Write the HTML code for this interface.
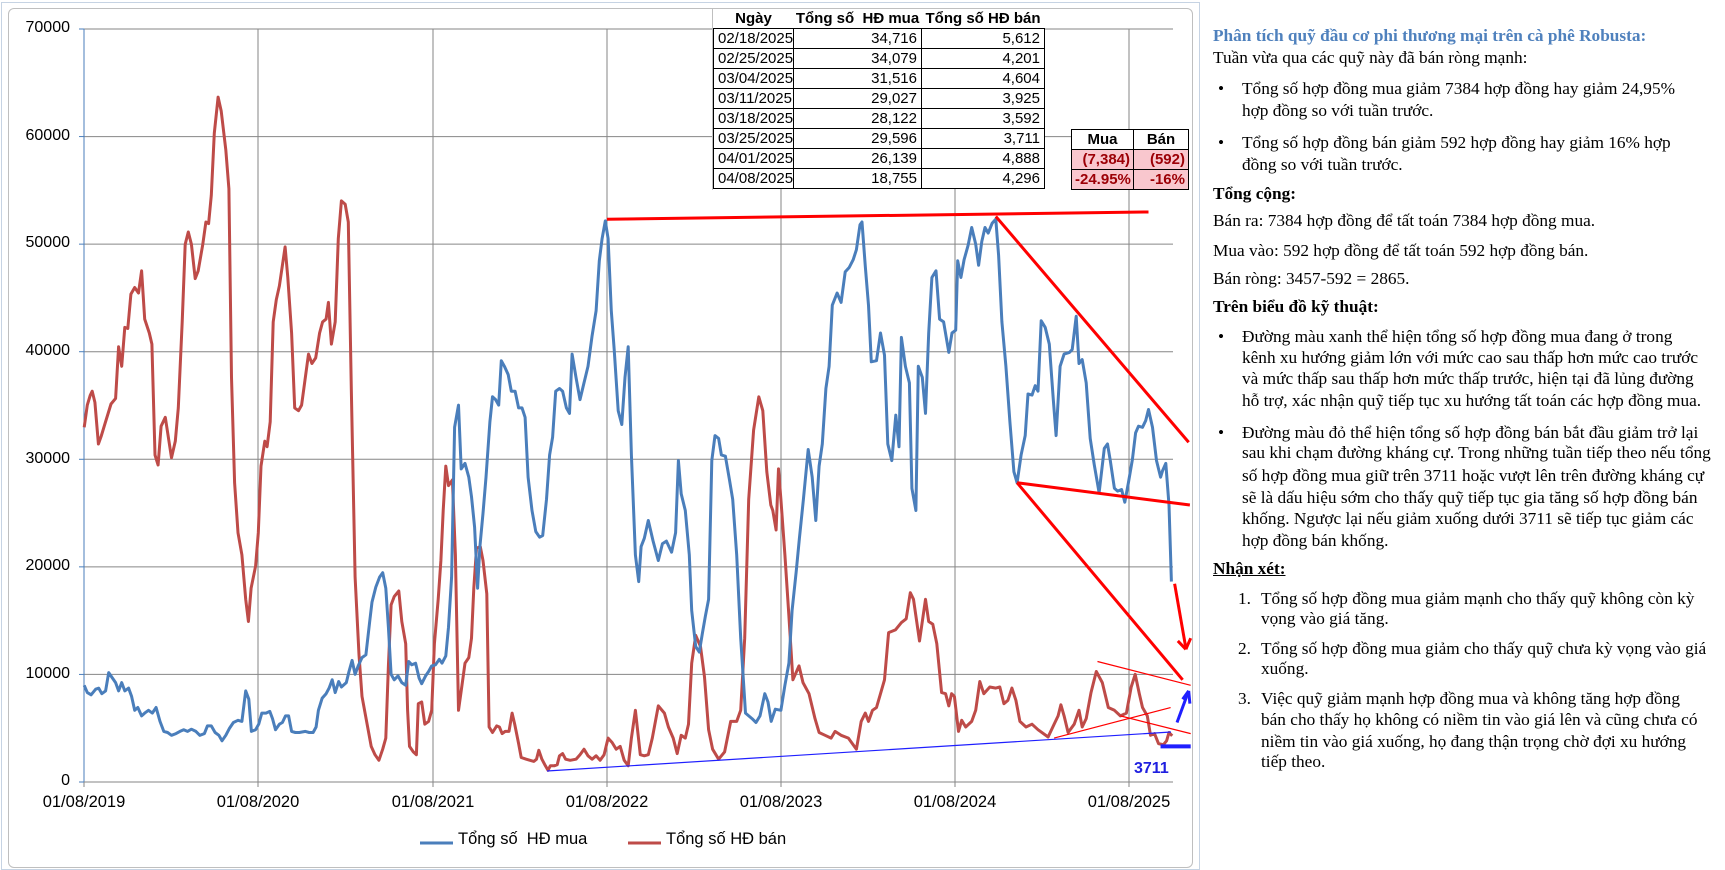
<!DOCTYPE html>
<html><head><meta charset="utf-8">
<style>
html,body{margin:0;padding:0;background:#fff;}
body{width:1725px;height:870px;position:relative;overflow:hidden;font-family:"Liberation Sans",sans-serif;}
.ax{position:absolute;font-size:16px;color:#000;}
.yl{position:absolute;width:60px;text-align:right;left:10px;font-size:16px;}
.xl{position:absolute;width:120px;text-align:center;font-size:16.5px;}
table{border-collapse:collapse;position:absolute;font-size:15px;table-layout:fixed;}
td{white-space:nowrap;overflow:visible;}
.t1 td{height:19px;padding:0 4px;border:1px solid #000;line-height:19px;}
.t1 tr.h td{border:none;font-weight:bold;text-align:center;padding:0;}
.t2 td{height:19px;padding:0 3px;border:1px solid #000;line-height:19px;text-align:right;font-weight:bold;}
.t2 tr.p td{background:#f9c7ce;color:#9c0006;}
.tx{position:absolute;font-family:"Liberation Serif",serif;font-size:17.3px;white-space:nowrap;line-height:20px;}
</style></head><body>
<div style="position:absolute;left:1px;top:2px;width:1197px;height:866px;border:1px solid #c6d3e3;"></div>
<div style="position:absolute;left:8px;top:8px;width:1183px;height:858px;border:1px solid #bfbfbf;border-radius:6px;"></div>
<svg id="ch" width="1725" height="870" style="position:absolute;left:0;top:0"></svg>
<div class="yl" style="top:19px">70000</div>
<div class="yl" style="top:127px">60000</div>
<div class="yl" style="top:234px">50000</div>
<div class="yl" style="top:342px">40000</div>
<div class="yl" style="top:450px">30000</div>
<div class="yl" style="top:557px">20000</div>
<div class="yl" style="top:665px">10000</div>
<div class="yl" style="top:772px">0</div>
<div class="xl" style="left:24px;top:793px">01/08/2019</div>
<div class="xl" style="left:198px;top:793px">01/08/2020</div>
<div class="xl" style="left:373px;top:793px">01/08/2021</div>
<div class="xl" style="left:547px;top:793px">01/08/2022</div>
<div class="xl" style="left:721px;top:793px">01/08/2023</div>
<div class="xl" style="left:895px;top:793px">01/08/2024</div>
<div class="xl" style="left:1069px;top:793px">01/08/2025</div>
<div class="ax" style="left:458px;top:830px;font-size:16.5px">Tổng số&nbsp; HĐ mua</div>
<div class="ax" style="left:666px;top:830px;font-size:16.5px">Tổng số HĐ bán</div>
<div class="ax" style="left:1134px;top:760px;color:#1f1fe0;font-weight:bold;font-size:16px">3711</div>

<div style="position:absolute;left:712px;top:8px;width:1px;height:182px;background:#bfbfbf"></div>
<table class="t1" style="left:713px;top:9px;width:331px;background:#fff">
<colgroup><col style="width:80px"><col style="width:128px"><col style="width:123px"></colgroup>
<tr class="h"><td>Ngày</td><td>Tổng số&nbsp; HĐ mua</td><td>Tổng số HĐ bán</td></tr>
<tr><td>02/18/2025</td><td align="right">34,716</td><td align="right">5,612</td></tr>
<tr><td>02/25/2025</td><td align="right">34,079</td><td align="right">4,201</td></tr>
<tr><td>03/04/2025</td><td align="right">31,516</td><td align="right">4,604</td></tr>
<tr><td>03/11/2025</td><td align="right">29,027</td><td align="right">3,925</td></tr>
<tr><td>03/18/2025</td><td align="right">28,122</td><td align="right">3,592</td></tr>
<tr><td>03/25/2025</td><td align="right">29,596</td><td align="right">3,711</td></tr>
<tr><td>04/01/2025</td><td align="right">26,139</td><td align="right">4,888</td></tr>
<tr><td>04/08/2025</td><td align="right">18,755</td><td align="right">4,296</td></tr>
</table>
<table class="t2" style="left:1071px;top:129px;width:117px;background:#fff">
<colgroup><col style="width:62px"><col style="width:55px"></colgroup>
<tr><td style="text-align:center">Mua</td><td style="text-align:center">Bán</td></tr>
<tr class="p"><td>(7,384)</td><td>(592)</td></tr>
<tr class="p"><td>-24.95%</td><td>-16%</td></tr>
</table>

<div class="tx" style="left:1213px;top:26px;color:#4f81bd;font-weight:bold">Phân tích quỹ đầu cơ phi thương mại trên cà phê Robusta:</div>
<div class="tx" style="left:1213px;top:48px">Tuần vừa qua các quỹ này đã bán ròng mạnh:</div>
<div class="tx" style="left:1218px;top:79px">•</div>
<div class="tx" style="left:1242px;top:79px">Tổng số hợp đồng mua giảm 7384 hợp đồng hay giảm 24,95%</div>
<div class="tx" style="left:1242px;top:101px">hợp đồng so với tuần trước.</div>
<div class="tx" style="left:1218px;top:133px">•</div>
<div class="tx" style="left:1242px;top:133px">Tổng số hợp đồng bán giảm 592 hợp đồng hay giảm 16% hợp</div>
<div class="tx" style="left:1242px;top:155px">đồng so với tuần trước.</div>
<div class="tx" style="left:1213px;top:184px;font-weight:bold">Tổng cộng:</div>
<div class="tx" style="left:1213px;top:211px">Bán ra: 7384 hợp đồng để tất toán 7384 hợp đồng mua.</div>
<div class="tx" style="left:1213px;top:241px">Mua vào: 592 hợp đồng để tất toán 592 hợp đồng bán.</div>
<div class="tx" style="left:1213px;top:269px">Bán ròng: 3457-592 = 2865.</div>
<div class="tx" style="left:1213px;top:297px;font-weight:bold">Trên biểu đồ kỹ thuật:</div>
<div class="tx" style="left:1218px;top:327px">•</div>
<div class="tx" style="left:1242px;top:327px">Đường màu xanh thể hiện tổng số hợp đồng mua đang ở trong</div>
<div class="tx" style="left:1242px;top:348px">kênh xu hướng giảm lớn với mức cao sau thấp hơn mức cao trước</div>
<div class="tx" style="left:1242px;top:369px">và mức thấp sau thấp hơn mức thấp trước, hiện tại đã lủng đường</div>
<div class="tx" style="left:1242px;top:391px">hỗ trợ, xác nhận quỹ tiếp tục xu hướng tất toán các hợp đồng mua.</div>
<div class="tx" style="left:1218px;top:423px">•</div>
<div class="tx" style="left:1242px;top:423px">Đường màu đỏ thể hiện tổng số hợp đồng bán bắt đầu giảm trở lại</div>
<div class="tx" style="left:1242px;top:443px">sau khi chạm đường kháng cự. Trong những tuần tiếp theo nếu tổng</div>
<div class="tx" style="left:1242px;top:466px">số hợp đồng mua giữ trên 3711 hoặc vượt lên trên đường kháng cự</div>
<div class="tx" style="left:1242px;top:488px">sẽ là dấu hiệu sớm cho thấy quỹ tiếp tục gia tăng số hợp đồng bán</div>
<div class="tx" style="left:1242px;top:509px">khống. Ngược lại nếu giảm xuống dưới 3711 sẽ tiếp tục giảm các</div>
<div class="tx" style="left:1242px;top:531px">hợp đồng bán khống.</div>
<div class="tx" style="left:1213px;top:559px;font-weight:bold;text-decoration:underline">Nhận xét:</div>
<div class="tx" style="left:1238px;top:589px">1.</div>
<div class="tx" style="left:1261px;top:589px">Tổng số hợp đồng mua giảm mạnh cho thấy quỹ không còn kỳ</div>
<div class="tx" style="left:1261px;top:609px">vọng vào giá tăng.</div>
<div class="tx" style="left:1238px;top:639px">2.</div>
<div class="tx" style="left:1261px;top:639px">Tổng số hợp đồng mua giảm cho thấy quỹ chưa kỳ vọng vào giá</div>
<div class="tx" style="left:1261px;top:659px">xuống.</div>
<div class="tx" style="left:1238px;top:689px">3.</div>
<div class="tx" style="left:1261px;top:689px">Việc quỹ giảm mạnh hợp đồng mua và không tăng hợp đồng</div>
<div class="tx" style="left:1261px;top:710px">bán cho thấy họ không có niềm tin vào giá lên và cũng chưa có</div>
<div class="tx" style="left:1261px;top:732px">niềm tin vào giá xuống, họ đang thận trọng chờ đợi xu hướng</div>
<div class="tx" style="left:1261px;top:752px">tiếp theo.</div>

<script>
var NS="http://www.w3.org/2000/svg",svg=document.getElementById('ch');
function el(t,a){var e=document.createElementNS(NS,t);for(var k in a)e.setAttribute(k,a[k]);svg.appendChild(e);return e;}
function z2(p){return [p[0]/2.613,p[1]/1.802];}
function z3(p){return [p[0]/2.489+580,p[1]/1.802];}
var L=84,R=1173,T=29,B=782;
for(var i=0;i<7;i++){var y=T+i*(B-T)/7;el('line',{x1:L,y1:y,x2:R,y2:y,stroke:'#868686','stroke-width':1});}
[258,433,607,781,955,1129].forEach(function(x){el('line',{x1:x,y1:T,x2:x,y2:B,stroke:'#868686','stroke-width':1});});
el('line',{x1:L,y1:T,x2:L,y2:B+5,stroke:'#4a7ebb','stroke-width':1});
el('line',{x1:L-5,y1:B,x2:R,y2:B,stroke:'#868686','stroke-width':1});
[84,258,433,607,781,955,1129].forEach(function(x){el('line',{x1:x,y1:B,x2:x,y2:B+5,stroke:'#868686'});});
for(var i=0;i<8;i++){var y=T+i*(B-T)/7;el('line',{x1:L-5,y1:y,x2:L,y2:y,stroke:'#4a7ebb'});}
var r2=[[220,770],[228,730],[236,712],[241,705],[248,725],[257,800],[265,785],[275,762],[290,728],[302,718],[310,625],[318,660],[326,590],[334,592],[342,530],[352,518],[362,528],[370,488],[378,575],[390,600],[397,620],[405,820],[413,838],[421,768],[432,752],[448,825],[458,795],[466,735],[476,580],[484,440],[492,418],[500,440],[510,502],[518,488],[530,440],[538,400],[545,403],[552,352],[560,240],[570,175],[578,200],[590,270],[598,340],[605,680],[613,870],[622,960],[632,1000],[642,1080],[649,1120],[656,1060],[668,1020],[675,960],[682,840],[692,795],[698,805],[706,760],[714,580],[722,540],[730,515],[745,445],[752,500],[762,600],[770,735],[780,740],[788,730],[796,690],[806,638],[815,655],[825,645],[835,600],[843,580],[852,575],[858,545],[866,620],[876,580],[884,430],[892,362],[902,368],[910,400],[918,700],[928,1040],[938,1180],[946,1255],[958,1300],[970,1345],[980,1360],[990,1370],[1000,1350],[1008,1330],[1015,1200],[1022,1090],[1030,1075],[1042,1065],[1050,1120],[1060,1160],[1065,1280],[1070,1345],[1080,1355],[1088,1360],[1093,1268],[1102,1265],[1110,1305],[1120,1300],[1128,1280],[1135,1160],[1145,1080],[1152,1010],[1158,920],[1165,840],[1172,875],[1182,865],[1190,1000],[1198,1280],[1205,1245],[1215,1195],[1225,1185],[1232,1150],[1238,1060],[1245,988],[1255,985],[1262,1010],[1272,1070],[1278,1310],[1287,1320],[1298,1308],[1305,1310],[1312,1322],[1320,1318],[1330,1318],[1338,1285],[1345,1305],[1355,1340],[1362,1365],[1375,1368],[1385,1370],[1395,1372],[1402,1368],[1408,1352],[1416,1368],[1425,1380],[1432,1388],[1438,1380],[1448,1380],[1456,1378],[1462,1362],[1470,1358],[1478,1368],[1490,1370],[1505,1368]];
var r3=[[0,1360],[10,1350],[20,1362],[30,1368],[40,1362],[50,1370],[60,1360],[70,1330],[80,1338],[90,1350],[100,1345],[110,1370],[120,1380],[128,1330],[138,1280],[150,1360],[160,1362],[170,1360],[180,1330],[195,1272],[210,1285],[220,1310],[232,1330],[242,1358],[252,1325],[262,1330],[270,1305],[278,1195],[288,1145],[300,1165],[310,1220],[320,1315],[330,1350],[345,1368],[360,1355],[375,1300],[390,1300],[400,1280],[410,1150],[420,900],[432,775],[445,715],[455,740],[465,850],[475,910],[480,920],[488,955],[494,845],[500,900],[510,1000],[520,1110],[530,1225],[545,1200],[555,1230],[570,1250],[585,1295],[595,1320],[610,1325],[625,1330],[635,1318],[650,1325],[668,1330],[688,1350],[700,1300],[710,1285],[718,1300],[728,1280],[738,1275],[750,1245],[758,1225],[768,1140],[785,1135],[800,1122],[812,1115],[822,1068],[830,1080],[838,1120],[845,1155],[860,1080],[868,1120],[878,1125],[888,1160],[900,1248],[910,1250],[918,1272],[925,1250],[932,1255],[942,1318],[950,1298],[960,1310],[975,1300],[985,1280],[995,1228],[1005,1250],[1020,1238],[1035,1240],[1045,1238],[1055,1268],[1065,1262],[1075,1240],[1085,1262],[1095,1300],[1110,1310],[1125,1305],[1140,1315],[1165,1328],[1180,1305],[1190,1290],[1197,1270],[1205,1290],[1215,1320],[1230,1305],[1242,1280],[1250,1310],[1260,1295],[1272,1248],[1285,1210],[1300,1230],[1315,1275],[1330,1280],[1345,1290],[1360,1285],[1372,1238],[1382,1215],[1392,1250],[1400,1275],[1412,1290],[1420,1325],[1430,1322],[1440,1340],[1452,1342],[1460,1335],[1466,1320],[1474,1326]];
var b2=[[220,1235],[228,1248],[238,1252],[250,1242],[258,1240],[266,1250],[276,1245],[284,1212],[292,1220],[302,1230],[310,1245],[318,1230],[326,1245],[336,1240],[344,1255],[352,1280],[360,1275],[370,1290],[378,1285],[388,1280],[398,1285],[408,1275],[418,1300],[428,1318],[438,1320],[448,1325],[460,1322],[470,1318],[480,1315],[490,1318],[500,1314],[512,1318],[522,1325],[534,1322],[542,1308],[552,1308],[562,1320],[572,1325],[580,1335],[590,1325],[600,1312],[610,1302],[622,1298],[632,1300],[642,1245],[650,1260],[657,1318],[668,1315],[676,1305],[684,1285],[695,1285],[705,1282],[712,1295],[720,1315],[730,1305],[738,1302],[746,1290],[754,1290],[762,1318],[772,1320],[782,1320],[798,1318],[808,1320],[818,1320],[826,1310],[832,1280],[842,1258],[852,1250],[860,1240],[868,1225],[876,1248],[885,1228],[892,1238],[905,1230],[912,1210],[920,1190],[928,1215],[936,1200],[946,1185],[956,1180],[966,1120],[972,1085],[982,1058],[992,1040],[1000,1032],[1008,1060],[1015,1130],[1022,1215],[1030,1225],[1040,1218],[1050,1230],[1060,1235],[1068,1192],[1076,1198],[1086,1195],[1095,1222],[1102,1232],[1112,1218],[1120,1210],[1128,1200],[1138,1198],[1148,1188],[1155,1195],[1165,1182],[1172,1130],[1180,1040],[1188,770],[1198,730],[1205,845],[1215,835],[1225,860],[1232,895],[1240,950],[1248,1060],[1254,985],[1262,925],[1270,860],[1280,760],[1287,715],[1295,720],[1303,730],[1310,650],[1318,660],[1328,675],[1336,705],[1346,705],[1355,735],[1364,735],[1372,752],[1380,860],[1390,920],[1400,958],[1410,968],[1418,965],[1428,900],[1436,820],[1444,788],[1452,705],[1462,700],[1470,705],[1480,735],[1488,745],[1495,638],[1505,680]];
var b3=[[0,720],[10,690],[20,660],[30,605],[40,560],[48,470],[55,430],[63,398],[70,430],[78,560],[85,630],[95,740],[104,765],[112,680],[120,625],[128,820],[138,1000],[146,1048],[152,985],[160,970],[170,938],[182,975],[195,1010],[205,980],[215,975],[228,995],[238,960],[245,830],[252,890],[262,920],[272,1000],[278,1100],[288,1165],[297,1175],[305,1140],[312,1110],[320,1080],[328,830],[336,785],[345,790],[352,820],[362,822],[372,865],[380,900],[390,1000],[400,1150],[412,1285],[428,1295],[438,1302],[448,1290],[460,1250],[468,1265],[476,1300],[486,1278],[500,1280],[510,1235],[520,1195],[528,1100],[538,1030],[546,970],[556,900],[568,810],[578,860],[587,938],[595,840],[603,800],[612,700],[620,660],[628,550],[640,528],[650,545],[660,490],[670,482],[680,468],[688,450],[697,405],[702,400],[710,480],[718,550],[725,652],[738,650],[748,600],[758,640],[766,800],[776,830],[786,748],[794,805],[800,608],[810,660],[820,690],[826,880],[836,920],[842,660],[852,680],[860,745],[868,600],[876,500],[886,488],[895,575],[905,580],[918,635],[926,600],[935,595],[940,470],[948,500],[956,468],[966,442],[975,410],[985,440],[992,478],[1000,435],[1008,410],[1016,420],[1026,402],[1035,395],[1042,460],[1050,580],[1060,660],[1070,760],[1080,850],[1088,870],[1098,820],[1108,785],[1115,710],[1125,712],[1133,695],[1140,705],[1148,578],[1158,590],[1168,620],[1178,720],[1185,785],[1195,660],[1205,638],[1218,635],[1225,630],[1235,570],[1242,655],[1250,648],[1260,690],[1270,790],[1280,838],[1292,888],[1305,808],[1313,800],[1320,830],[1330,880],[1338,885],[1348,882],[1356,905],[1365,870],[1375,828],[1383,780],[1390,768],[1400,770],[1408,758],[1415,738],[1425,770],[1435,830],[1445,860],[1450,848],[1458,835],[1466,910],[1472,1048]];
function pts(a,b){return a.map(z2).concat(b.map(z3)).map(function(p){return p[0].toFixed(1)+','+p[1].toFixed(1);}).join(' ');}
el('polyline',{points:pts(r2,r3),fill:'none',stroke:'#be4b48','stroke-width':3,'stroke-linejoin':'round'});
el('polyline',{points:pts(b2,b3),fill:'none',stroke:'#4a7ebb','stroke-width':3,'stroke-linejoin':'round'});
function ln(a,b,c,w){var p=z3(a),q=z3(b);el('line',{x1:p[0],y1:p[1],x2:q[0],y2:q[1],stroke:c,'stroke-width':w});}
ln([67,395],[1415,382],'#ff0000',3);
ln([1035,390],[1515,797],'#ff0000',3);
ln([1088,870],[1518,910],'#ff0000',3);
ln([1088,870],[1500,1225],'#ff0000',3);
ln([1480,1052],[1508,1168],'#ff0000',3);
ln([1488,1155],[1508,1170],'#ff0000',3);ln([1520,1150],[1508,1170],'#ff0000',3);
ln([1288,1192],[1520,1235],'#ff0000',1.2);
ln([1345,1290],[1520,1322],'#ff0000',1.2);
ln([1180,1330],[1470,1275],'#ff0000',1.2);
el('line',{x1:547,y1:771,x2:1171,y2:732,stroke:'#1f1fff','stroke-width':1.2});
ln([1486,1302],[1515,1245],'#1f1fff',3);
ln([1500,1260],[1515,1245],'#1f1fff',3);ln([1518,1268],[1515,1245],'#1f1fff',3);
ln([1445,1345],[1520,1345],'#1f1fff',4);
el('line',{x1:420,y1:843,x2:453,y2:843,stroke:'#4a7ebb','stroke-width':3});
el('line',{x1:628,y1:843,x2:661,y2:843,stroke:'#be4b48','stroke-width':3});
</script>
</body></html>
